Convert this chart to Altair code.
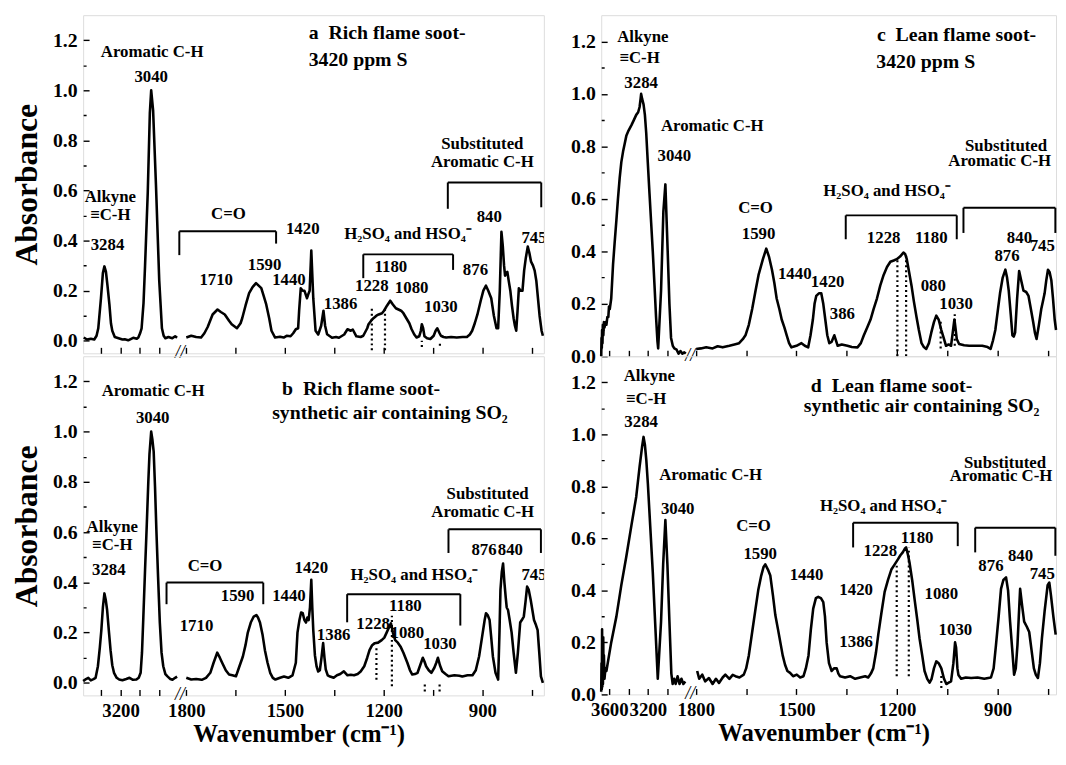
import altair as alt
import pandas as pd

FONT = "Liberation Serif"

# ---------------- spectra (wavenumber, absorbance) ----------------
A_HI = [(3392, 0.013), (3375, 0.005), (3355, 0.008), (3337, 0.005), (3325, 0.02), (3316, 0.05), (3302, 0.17),
        (3292, 0.27), (3284, 0.297), (3276, 0.275), (3268, 0.22), (3258, 0.145), (3250, 0.07), (3243, 0.04),
        (3230, 0.015), (3210, 0.01), (3190, 0.005), (3178, 0.006), (3160, 0.002), (3134, 0.012), (3115, 0.008),
        (3107, 0.013), (3098, 0.03), (3090, 0.05), (3080, 0.15), (3072, 0.3), (3058, 0.59), (3047, 0.91),
        (3040, 1.0), (3030, 0.92), (3015, 0.62), (2998, 0.24), (2984, 0.05), (2975, 0.02), (2966, 0.01),
        (2950, 0.015), (2930, 0.01), (2915, 0.018), (2905, 0.012)]
A_LO = [(1800, 0.013), (1785, 0.02), (1770, 0.015), (1755, 0.013), (1745, 0.03), (1735, 0.055), (1720, 0.105),
        (1705, 0.125), (1695, 0.115), (1683, 0.105), (1670, 0.08), (1662, 0.066), (1646, 0.05), (1635, 0.07),
        (1630, 0.09), (1620, 0.14), (1609, 0.19), (1598, 0.215), (1588, 0.23), (1580, 0.22), (1572, 0.21),
        (1565, 0.18), (1557, 0.145), (1548, 0.09), (1541, 0.04), (1530, 0.013), (1515, 0.016), (1504, 0.013),
        (1495, 0.02), (1483, 0.018), (1475, 0.03), (1467, 0.046), (1460, 0.05), (1457, 0.12), (1452, 0.21),
        (1446, 0.2), (1441, 0.2), (1433, 0.17), (1428, 0.19), (1425, 0.2), (1420, 0.36), (1414, 0.17),
        (1407, 0.04), (1399, 0.025), (1390, 0.06), (1383, 0.12), (1378, 0.06), (1372, 0.026), (1357, 0.012),
        (1345, 0.015), (1336, 0.012), (1320, 0.025), (1310, 0.046), (1300, 0.04), (1294, 0.045), (1283, 0.018),
        (1270, 0.015), (1262, 0.02), (1250, 0.05), (1246, 0.066), (1238, 0.08), (1231, 0.09), (1222, 0.1),
        (1215, 0.105), (1205, 0.11), (1199, 0.12), (1190, 0.14), (1180, 0.16), (1172, 0.145), (1163, 0.13),
        (1155, 0.125), (1147, 0.12), (1140, 0.11), (1131, 0.09), (1122, 0.07), (1115, 0.046), (1107, 0.025),
        (1100, 0.013), (1092, 0.018), (1087, 0.04), (1084, 0.066), (1080, 0.05), (1076, 0.018), (1068, 0.01),
        (1058, 0.007), (1048, 0.02), (1042, 0.04), (1037, 0.05), (1030, 0.03), (1026, 0.02), (1018, 0.015),
        (1010, 0.013), (995, 0.015), (978, 0.013), (960, 0.015), (947, 0.015), (938, 0.025), (931, 0.04),
        (923, 0.07), (915, 0.105), (905, 0.16), (897, 0.2), (889, 0.22), (882, 0.2), (873, 0.17), (865, 0.1),
        (857, 0.05), (852, 0.05), (847, 0.2), (842, 0.435), (838, 0.38), (834, 0.3), (831, 0.26), (827, 0.27),
        (824, 0.275), (820, 0.24), (815, 0.2), (810, 0.14), (805, 0.09), (801, 0.06), (797, 0.04), (793, 0.12),
        (789, 0.21), (784, 0.2), (778, 0.2), (773, 0.28), (768, 0.33), (762, 0.376), (757, 0.35), (752, 0.316),
        (746, 0.3), (741, 0.28), (736, 0.24), (731, 0.17), (726, 0.1), (720, 0.04), (716, 0.02)]

B_HI = [(3395, 0.007), (3380, 0.015), (3368, 0.02), (3355, 0.01), (3341, 0.015), (3330, 0.02), (3318, 0.066),
        (3308, 0.14), (3300, 0.21), (3292, 0.3), (3284, 0.356), (3277, 0.33), (3270, 0.29), (3260, 0.2),
        (3252, 0.13), (3243, 0.07), (3234, 0.04), (3220, 0.02), (3207, 0.013), (3190, 0.01), (3170, 0.015),
        (3153, 0.02), (3135, 0.012), (3117, 0.013), (3105, 0.02), (3095, 0.04), (3088, 0.12), (3081, 0.26),
        (3072, 0.45), (3063, 0.63), (3055, 0.8), (3049, 0.91), (3040, 1.0), (3034, 0.97), (3027, 0.92),
        (3020, 0.78), (3013, 0.61), (3004, 0.42), (2995, 0.24), (2986, 0.12), (2977, 0.066), (2966, 0.035),
        (2955, 0.026), (2940, 0.015), (2929, 0.012), (2915, 0.02), (2902, 0.025)]
B_LO = [(1800, 0.02), (1785, 0.013), (1770, 0.015), (1753, 0.012), (1740, 0.02), (1727, 0.04), (1717, 0.08),
        (1706, 0.12), (1698, 0.1), (1691, 0.08), (1680, 0.05), (1670, 0.033), (1660, 0.03), (1649, 0.026),
        (1640, 0.06), (1628, 0.105), (1620, 0.15), (1613, 0.2), (1604, 0.24), (1595, 0.264), (1587, 0.27),
        (1582, 0.26), (1576, 0.24), (1568, 0.19), (1561, 0.13), (1553, 0.08), (1545, 0.04), (1537, 0.02),
        (1529, 0.013), (1515, 0.02), (1503, 0.025), (1490, 0.02), (1477, 0.03), (1467, 0.08), (1462, 0.2),
        (1456, 0.25), (1451, 0.28), (1446, 0.277), (1441, 0.25), (1436, 0.24), (1432, 0.26), (1428, 0.25),
        (1424, 0.3), (1420, 0.41), (1417, 0.3), (1414, 0.21), (1409, 0.11), (1404, 0.066), (1399, 0.045),
        (1394, 0.05), (1389, 0.1), (1384, 0.158), (1380, 0.1), (1376, 0.053), (1370, 0.03), (1363, 0.025),
        (1352, 0.02), (1342, 0.03), (1332, 0.035), (1321, 0.046), (1310, 0.03), (1300, 0.032), (1290, 0.03),
        (1279, 0.035), (1270, 0.045), (1259, 0.066), (1250, 0.1), (1243, 0.13), (1235, 0.15), (1227, 0.158),
        (1217, 0.16), (1206, 0.17), (1198, 0.18), (1191, 0.2), (1184, 0.22), (1178, 0.237), (1172, 0.2),
        (1165, 0.17), (1157, 0.16), (1149, 0.145), (1140, 0.12), (1128, 0.08), (1120, 0.05), (1113, 0.033),
        (1105, 0.035), (1097, 0.04), (1089, 0.07), (1081, 0.1), (1076, 0.085), (1071, 0.066), (1063, 0.05),
        (1055, 0.04), (1046, 0.06), (1040, 0.08), (1035, 0.1), (1029, 0.07), (1022, 0.046), (1012, 0.035),
        (1003, 0.026), (985, 0.03), (970, 0.028), (961, 0.025), (945, 0.03), (930, 0.03), (920, 0.05),
        (910, 0.105), (900, 0.19), (893, 0.25), (889, 0.277), (884, 0.27), (878, 0.25), (873, 0.18),
        (868, 0.105), (860, 0.04), (852, 0.013), (848, 0.2), (845, 0.37), (841, 0.44), (837, 0.475),
        (833, 0.4), (829, 0.34), (826, 0.3), (822, 0.29), (817, 0.25), (811, 0.2), (805, 0.12), (798, 0.04),
        (792, 0.12), (785, 0.24), (780, 0.25), (774, 0.264), (769, 0.32), (764, 0.383), (759, 0.37),
        (753, 0.33), (748, 0.29), (743, 0.25), (737, 0.23), (732, 0.21), (727, 0.12), (722, 0.026), (716, 0.0)]

C_HI = [(3684, 0.0), (3681, 0.07), (3678, 0.03), (3675, 0.1), (3671, 0.05), (3667, 0.12), (3662, 0.08),
        (3656, 0.13), (3650, 0.11), (3640, 0.13), (3630, 0.12), (3620, 0.15), (3610, 0.15), (3603, 0.19),
        (3595, 0.18), (3580, 0.22), (3561, 0.35), (3545, 0.43), (3526, 0.52), (3510, 0.6), (3492, 0.68),
        (3475, 0.74), (3457, 0.78), (3440, 0.81), (3423, 0.84), (3400, 0.86), (3371, 0.88), (3345, 0.9),
        (3320, 0.92), (3300, 0.93), (3285, 0.95), (3275, 0.98), (3269, 1.0), (3258, 0.98), (3244, 0.96),
        (3230, 0.92), (3216, 0.85), (3200, 0.74), (3182, 0.62), (3165, 0.51), (3148, 0.4), (3130, 0.27),
        (3114, 0.15), (3100, 0.06), (3092, 0.03), (3062, 0.25), (3038, 0.55), (3017, 0.655), (2993, 0.4),
        (2975, 0.2), (2958, 0.07), (2940, 0.04), (2924, 0.03), (2900, 0.025), (2880, 0.01), (2860, 0.02),
        (2840, 0.01), (2820, 0.015), (2805, 0.01)]
C_LO = [(1799, 0.028), (1785, 0.03), (1769, 0.034), (1750, 0.03), (1735, 0.038), (1720, 0.034), (1700, 0.04),
        (1685, 0.045), (1671, 0.05), (1660, 0.065), (1652, 0.08), (1642, 0.12), (1632, 0.18), (1622, 0.25),
        (1613, 0.31), (1600, 0.37), (1590, 0.41), (1582, 0.38), (1573, 0.33), (1566, 0.28), (1559, 0.22),
        (1551, 0.18), (1544, 0.14), (1536, 0.11), (1529, 0.08), (1522, 0.05), (1515, 0.034), (1500, 0.04),
        (1485, 0.05), (1475, 0.04), (1465, 0.034), (1458, 0.08), (1451, 0.14), (1446, 0.2), (1441, 0.23),
        (1433, 0.24), (1426, 0.24), (1420, 0.2), (1414, 0.14), (1408, 0.08), (1402, 0.05), (1395, 0.055),
        (1387, 0.08), (1382, 0.06), (1377, 0.04), (1365, 0.045), (1348, 0.04), (1335, 0.035), (1318, 0.034),
        (1308, 0.05), (1299, 0.08), (1289, 0.11), (1279, 0.14), (1270, 0.18), (1260, 0.22), (1250, 0.27),
        (1240, 0.31), (1230, 0.34), (1220, 0.36), (1210, 0.365), (1201, 0.37), (1191, 0.38), (1181, 0.395),
        (1176, 0.39), (1171, 0.37), (1164, 0.32), (1157, 0.27), (1150, 0.21), (1142, 0.15), (1135, 0.1),
        (1127, 0.05), (1120, 0.035), (1113, 0.028), (1105, 0.05), (1098, 0.09), (1090, 0.13), (1083, 0.155),
        (1076, 0.14), (1068, 0.1), (1061, 0.07), (1054, 0.04), (1046, 0.045), (1039, 0.04), (1034, 0.09),
        (1029, 0.14), (1026, 0.11), (1022, 0.066), (1015, 0.047), (1000, 0.042), (985, 0.04), (965, 0.04),
        (946, 0.04), (930, 0.035), (921, 0.028), (914, 0.06), (907, 0.1), (900, 0.17), (893, 0.24), (885, 0.3),
        (877, 0.33), (872, 0.3), (867, 0.25), (861, 0.16), (856, 0.08), (852, 0.075), (848, 0.09), (842, 0.22),
        (836, 0.325), (830, 0.29), (823, 0.25), (815, 0.245), (808, 0.23), (801, 0.18), (794, 0.13),
        (789, 0.09), (784, 0.066), (777, 0.12), (770, 0.18), (765, 0.21), (760, 0.24), (755, 0.29), (750, 0.33),
        (745, 0.32), (740, 0.29), (735, 0.22), (730, 0.14), (726, 0.1)]

D_HI = [(3684, 0.01), (3681, 0.12), (3678, 0.02), (3675, 0.25), (3672, 0.03), (3669, 0.2), (3666, 0.04),
        (3663, 0.22), (3660, 0.06), (3656, 0.15), (3650, 0.06), (3640, 0.1), (3630, 0.09), (3580, 0.2),
        (3526, 0.3), (3475, 0.42), (3423, 0.53), (3370, 0.65), (3320, 0.76), (3285, 0.876), (3260, 0.95),
        (3244, 0.99), (3230, 0.96), (3215, 0.9), (3199, 0.81), (3175, 0.65), (3148, 0.47), (3120, 0.25),
        (3096, 0.06), (3062, 0.28), (3040, 0.5), (3017, 0.67), (2996, 0.5), (2975, 0.28), (2955, 0.08),
        (2941, 0.04), (2925, 0.06), (2910, 0.04), (2890, 0.07), (2870, 0.04), (2850, 0.06), (2830, 0.04),
        (2810, 0.05)]
D_LO = [(1796, 0.09), (1790, 0.06), (1781, 0.076), (1772, 0.05), (1761, 0.063), (1750, 0.04), (1740, 0.06),
        (1731, 0.044), (1720, 0.065), (1712, 0.076), (1700, 0.06), (1690, 0.075), (1682, 0.07), (1670, 0.065),
        (1657, 0.076), (1650, 0.1), (1642, 0.15), (1632, 0.24), (1623, 0.32), (1614, 0.4), (1605, 0.457),
        (1598, 0.49), (1593, 0.5), (1585, 0.48), (1578, 0.457), (1570, 0.38), (1563, 0.305), (1555, 0.25),
        (1548, 0.2), (1541, 0.15), (1534, 0.114), (1527, 0.09), (1519, 0.083), (1510, 0.07), (1499, 0.076),
        (1489, 0.065), (1479, 0.07), (1472, 0.1), (1464, 0.15), (1457, 0.25), (1450, 0.33), (1442, 0.37),
        (1435, 0.375), (1427, 0.37), (1420, 0.355), (1415, 0.3), (1410, 0.2), (1403, 0.12), (1395, 0.09),
        (1388, 0.1), (1380, 0.1), (1375, 0.08), (1370, 0.07), (1355, 0.065), (1340, 0.07), (1325, 0.06),
        (1310, 0.065), (1295, 0.07), (1286, 0.065), (1278, 0.08), (1271, 0.1), (1263, 0.16), (1256, 0.23),
        (1247, 0.31), (1237, 0.394), (1227, 0.44), (1217, 0.48), (1207, 0.5), (1197, 0.52), (1190, 0.535),
        (1183, 0.546), (1177, 0.56), (1173, 0.565), (1168, 0.54), (1163, 0.508), (1155, 0.44), (1148, 0.368),
        (1140, 0.29), (1133, 0.216), (1125, 0.15), (1118, 0.09), (1110, 0.06), (1103, 0.045), (1097, 0.06),
        (1090, 0.1), (1083, 0.127), (1076, 0.12), (1068, 0.1), (1060, 0.06), (1053, 0.04), (1046, 0.045),
        (1039, 0.05), (1032, 0.12), (1027, 0.2), (1024, 0.18), (1020, 0.1), (1017, 0.075), (1009, 0.06),
        (995, 0.065), (979, 0.063), (960, 0.065), (940, 0.06), (920, 0.065), (912, 0.1), (905, 0.19),
        (897, 0.3), (890, 0.406), (883, 0.44), (875, 0.45), (869, 0.4), (863, 0.28), (857, 0.18), (851, 0.076),
        (846, 0.1), (841, 0.19), (837, 0.3), (833, 0.406), (827, 0.34), (821, 0.28), (813, 0.26), (806, 0.24),
        (799, 0.17), (792, 0.1), (786, 0.075), (780, 0.063), (774, 0.12), (768, 0.216), (760, 0.32),
        (751, 0.42), (746, 0.43), (741, 0.38), (734, 0.3), (727, 0.23)]

# ---------------- annotations (text, wavenumber, absorbance) ----------------
A_TXT = [("Aromatic C-H", 3035, 1.154), ("3040", 3040, 1.052), ("Alkyne", 3253, 0.573), ("≡C-H", 3253, 0.5),
         ("3284", 3268, 0.384), ("C=O", 1672, 0.507), ("1710", 1709, 0.243), ("1590", 1562, 0.302),
         ("1440", 1488, 0.243), ("1420", 1446, 0.448), ("1386", 1331, 0.147), ("1228", 1236, 0.22),
         ("1180", 1178, 0.296), ("1080", 1115, 0.21), ("1030", 1026, 0.133),
         ("H₂SO₄ and HSO₄⁻", 1126, 0.428), ("876", 921, 0.283), ("840", 879, 0.494), ("745", 743, 0.41),
         ("Substituted", 900, 0.784), ("Aromatic C-H", 900, 0.714)]
A_TITLE = [("a\u2002Rich flame soot-", 1428, 1.229), ("3420 ppm S", 1428, 1.12)]
A_BRACKETS = [(2490, 1527, 0.437, 0.342, 0.388), (1262, 989, 0.345, 0.25, 0.283), (1005, 721, 0.632, 0.527, 0.533)]
A_DOTS = [(1236, -0.038, 0.137), (1196, -0.038, 0.124), (1084, -0.025, 0.0), (1029, -0.02, 0.0)]

B_TXT = [("Aromatic C-H", 3030, 1.16), ("3040", 3032, 1.054), ("Alkyne", 3243, 0.622), ("≡C-H", 3243, 0.55),
         ("3284", 3261, 0.45), ("C=O", 1743, 0.464), ("1710", 1769, 0.228), ("1590", 1644, 0.346),
         ("1440", 1488, 0.346), ("1420", 1420, 0.458), ("1386", 1352, 0.189), ("1228", 1232, 0.235),
         ("1180", 1134, 0.307), ("1080", 1128, 0.2), ("1030", 1029, 0.156),
         ("H₂SO₄ and HSO₄⁻", 1107, 0.431), ("876", 895, 0.53), ("840", 815, 0.53), ("745", 743, 0.431),
         ("Substituted", 884, 0.753), ("Aromatic C-H", 899, 0.68)]
B_TITLE = [("b\u2002Rich flame soot-", 1509, 1.17), ("synthetic air containing SO₂", 1539, 1.074)]
B_BRACKETS = [(2960, 1566, 0.399, 0.313, 0.313), (1311, 967, 0.353, 0.241, 0.228), (1003, 722, 0.611, 0.517, 0.517)]
B_DOTS = [(1222, 0.012, 0.143), (1175, -0.014, 0.267), (1075, -0.034, -0.001), (1030, -0.034, -0.001)]

C_TXT = [("Alkyne", 3251, 1.218), ("≡C-H", 3285, 1.135), ("3284", 3269, 1.04), ("Aromatic C-H", 1751, 0.876),
         ("3040", 2924, 0.762), ("C=O", 1622, 0.566), ("1590", 1613, 0.465), ("1440", 1505, 0.313),
         ("1420", 1407, 0.281), ("386", 1363, 0.16), ("1228", 1240, 0.452), ("1180", 1098, 0.452),
         ("080", 1092, 0.268), ("1030", 1024, 0.2), ("H₂SO₄ and HSO₄⁻", 1230, 0.63),
         ("Substituted", 875, 0.8), ("Aromatic C-H", 894, 0.745), ("840", 835, 0.452), ("745", 767, 0.42),
         ("876", 872, 0.382)]
C_TITLE = [("c\u2002Lean flame soot-", 1260, 1.224), ("3420 ppm S", 1262, 1.123)]
C_BRACKETS = [(1353, 1022, 0.537, 0.446, 0.446), (1002, 728, 0.566, 0.47, 0.47)]
C_DOTS = [(1199, 0.0, 0.37), (1173, 0.0, 0.395), (1070, 0.03, 0.14), (1028, 0.04, 0.167)]

D_TXT = [("Alkyne", 3183, 1.225), ("≡C-H", 3216, 1.137), ("3284", 3269, 1.048), ("Aromatic C-H", 1756, 0.844),
         ("3040", 2889, 0.711), ("C=O", 1628, 0.648), ("1590", 1608, 0.54), ("1440", 1470, 0.457),
         ("1420", 1322, 0.4), ("1386", 1322, 0.203), ("1228", 1250, 0.552), ("1180", 1140, 0.603),
         ("1080", 1068, 0.387), ("1030", 1026, 0.248), ("H₂SO₄ and HSO₄⁻", 1240, 0.724),
         ("Substituted", 878, 0.889), ("Aromatic C-H", 890, 0.84), ("876", 920, 0.495), ("840", 832, 0.533),
         ("745", 767, 0.463)]
D_TITLE = [("d\u2002Lean flame soot-", 1457, 1.187), ("synthetic air containing SO₂", 1478, 1.11)]
D_BRACKETS = [(1331, 1019, 0.66, 0.565, 0.57), (967, 728, 0.641, 0.546, 0.533)]
D_DOTS = [(1201, 0.07, 0.495), (1165, 0.07, 0.565), (1068, 0.025, 0.076)]

# ---------------- axes ----------------
LEFT_X_DOMAIN = [3395, 2905, 1810, 713]
RIGHT_X_DOMAIN = [3684, 2800, 1805, 726]
LEFT_TICKS = [3300, 3200, 3100, 3000, 1800, 1650, 1500, 1350, 1200, 1050, 900, 750]
LEFT_LABELED = [3200, 1800, 1500, 1200, 900]
RIGHT_TICKS = [3600, 3400, 3200, 3000, 1800, 1650, 1500, 1350, 1200, 1050, 900, 750]
RIGHT_LABELED = [3600, 3200, 1800, 1500, 1200, 900]
Y_TICKS = [0.0, 0.1, 0.2, 0.3, 0.4, 0.5, 0.6, 0.7, 0.8, 0.9, 1.0, 1.1, 1.2]
LEFT_Y_DOMAIN = [-0.05, 1.3]
RIGHT_Y_DOMAIN = [0.0, 1.3]
BREAK_LEFT = 2360
BREAK_RIGHT = 2300


def spectrum(hi, lo):
    rows = [{"wn": w, "ab": a, "seg": "hi"} for w, a in hi] + [{"wn": w, "ab": a, "seg": "lo"} for w, a in lo]
    return pd.DataFrame(rows)


def panel(hi, lo, txt, title, brackets, dots, xdom, xrng, ydom, w, h, ticks, labeled, show_x, y_title, brk,
          title_x):
    xs = alt.Scale(domain=xdom, range=xrng, nice=False, zero=False)
    ys = alt.Scale(domain=ydom, nice=False, zero=False)
    lab = "[" + ",".join(str(v) for v in labeled) + "]"
    xaxis_kw = dict(values=ticks, format="d", offset=-6, tickSize=6, domain=False, grid=False,
                    tickColor="black", tickWidth=1.4, labelFlush=False, labelOverlap=False,
                    labelFont=FONT, labelFontSize=19, labelFontWeight="bold", labelColor="black",
                    labelPadding=6)
    if show_x:
        xaxis = alt.Axis(labelExpr="indexof(" + lab + ", datum.value) >= 0 ? datum.label : ''",
                         title="Wavenumber (cm⁻¹)", titleFont=FONT, titleFontSize=25, titleFontWeight="bold",
                         titleColor="black", titlePadding=2, titleX=title_x, **xaxis_kw)
    else:
        xaxis = alt.Axis(labels=False, title=None, **xaxis_kw)
    yaxis_kw = dict(values=Y_TICKS, offset=-6, tickSize=6, domain=False, grid=False, tickColor="black",
                    tickWidth=1.4, labelOverlap=False, labelFont=FONT, labelFontSize=20,
                    labelFontWeight="bold", labelColor="black", labelPadding=6,
                    labelExpr="round(datum.value*10) % 2 == 0 ? format(datum.value, '.1f') : ''",
                    tickDash={"condition": {"test": "round(datum.value*10) % 2 == 1", "value": [0, 3, 3]},
                              "value": [6, 0]})
    if y_title:
        yaxis = alt.Axis(title="Absorbance", titleFont=FONT, titleFontSize=32, titleFontWeight="bold",
                         titleColor="black", titlePadding=9, **yaxis_kw)
    else:
        yaxis = alt.Axis(title=None, **yaxis_kw)

    X = lambda f: alt.X(f, type="quantitative", scale=xs, axis=xaxis)
    Y = lambda f: alt.Y(f, type="quantitative", scale=ys, axis=yaxis)

    line = alt.Chart(spectrum(hi, lo)).mark_line(color="black", strokeWidth=2.6, strokeJoin="round").encode(
        x=X("wn"), y=Y("ab"), detail="seg:N")

    tdf = pd.DataFrame(txt, columns=["t", "wn", "ab"])
    texts = alt.Chart(tdf).mark_text(font=FONT, fontSize=17, fontWeight="bold", color="black",
                                     clip=True).encode(x=X("wn"), y=Y("ab"), text="t:N")

    ttdf = pd.DataFrame(title, columns=["t", "wn", "ab"])
    titles = alt.Chart(ttdf).mark_text(font=FONT, fontSize=20, fontWeight="bold", color="black",
                                       align="left", clip=True).encode(x=X("wn"), y=Y("ab"), text="t:N")

    segs = []
    for x1, x2, top, yl, yr in brackets:
        segs.append({"wn": x1, "x2": x2, "ab": top, "y2": top})
        segs.append({"wn": x1, "x2": x1, "ab": top, "y2": yl})
        segs.append({"wn": x2, "x2": x2, "ab": top, "y2": yr})
    brk_rules = alt.Chart(pd.DataFrame(segs)).mark_rule(color="black", strokeWidth=2).encode(
        x=X("wn"), x2="x2:Q", y=Y("ab"), y2="y2:Q")

    ddf = pd.DataFrame(dots, columns=["wn", "ab", "hi"])
    dotted = alt.Chart(ddf).mark_rule(color="black", strokeWidth=2.2, strokeDash=[2, 3]).encode(
        x=X("wn"), y=Y("ab"), y2="hi:Q")

    bdf = pd.DataFrame({"wn": [brk], "ab": [ydom[0]], "t": ["//"]})
    breakmark = alt.Chart(bdf).mark_text(font=FONT, fontSize=18, fontStyle="italic", color="black",
                                         baseline="middle").encode(x=X("wn"), y=Y("ab"), text="t:N")

    return alt.layer(line, dotted, brk_rules, texts, titles, breakmark).properties(width=w, height=h)


pa = panel(A_HI, A_LO, A_TXT, A_TITLE, A_BRACKETS, A_DOTS, LEFT_X_DOMAIN, [0, 95, 101, 466], LEFT_Y_DOMAIN,
           466, 342, LEFT_TICKS, LEFT_LABELED, False, True, BREAK_LEFT, 218)
pb = panel(B_HI, B_LO, B_TXT, B_TITLE, B_BRACKETS, B_DOTS, LEFT_X_DOMAIN, [0, 95, 101, 466], LEFT_Y_DOMAIN,
           466, 343, LEFT_TICKS, LEFT_LABELED, True, True, BREAK_LEFT, 218)
pc = panel(C_HI, C_LO, C_TXT, C_TITLE, C_BRACKETS, C_DOTS, RIGHT_X_DOMAIN, [0, 86, 94, 460], RIGHT_Y_DOMAIN,
           460, 345, RIGHT_TICKS, RIGHT_LABELED, False, False, BREAK_RIGHT, 225)
pd_ = panel(D_HI, D_LO, D_TXT, D_TITLE, D_BRACKETS, D_DOTS, RIGHT_X_DOMAIN, [0, 86, 94, 460], RIGHT_Y_DOMAIN,
            460, 342, RIGHT_TICKS, RIGHT_LABELED, True, False, BREAK_RIGHT, 225)

chart = alt.concat(pa, pc, pb, pd_, columns=2, spacing={"row": 0, "column": 58}, bounds="flush").properties(
    padding={"left": 2, "top": 2, "right": 0, "bottom": 0}
).configure_view(stroke="black", strokeWidth=1.6).configure(background="white")

chart.save("out.html", embed_options={"renderer": "svg", "actions": False})
